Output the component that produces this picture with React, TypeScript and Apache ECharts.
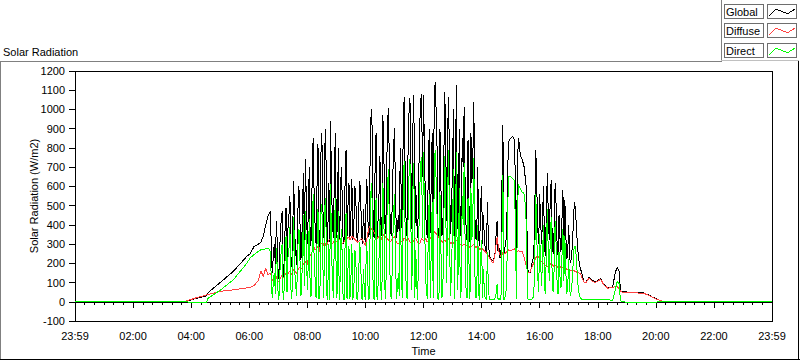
import React, { useEffect, useRef } from "react";
import * as echarts from "echarts";

// ---------- data ----------
const seriesNames = ["Global", "Diffuse", "Direct"];

// night / morning samples (explicit times)
const morningTimes = ["00:00", "03:43", "04:00", "04:12", "04:25", "04:31", "04:35", "05:00", "05:27", "05:55", "06:02", "06:10", "06:19", "06:24", "06:29", "06:34", "06:39"];
const morningGlobal = [0, 0, 10, 19, 26, 30, 48, 100, 158, 236, 250, 288, 300, 310, 340, 400, 450];
const morningDiffuse = [0, 0, 12, 22, 30, 35, 38, 54, 62, 72, 74, 85, 110, 160, 132, 175, 140];
const morningDirect = [0, 0, -2, -4, -5, -4, 18, 60, 114, 200, 229, 245, 262, 270, 272, 275, 280];

// daytime samples: logger every 2 minutes from 06:44 (one row = 40 minutes)
const dayStart = "06:44";
const dayStepMinutes = 2;
const dayGlobal = [
  470, 200, 150, 260, 300, 180, 420, 300, 120, 160, 350, 420, 470, 130, 200, 380, 490, 210, 380, 450,
  550, 240, 180, 400, 630, 350, 260, 190, 420, 600, 550, 220, 240, 480, 670, 300, 740, 520, 300, 460,
  700, 290, 320, 650, 850, 560, 400, 300, 600, 820, 280, 330, 760, 880, 500, 330, 800, 900, 350, 300,
  620, 310, 940, 600, 400, 330, 700, 880, 330, 380, 800, 320, 450, 700, 560, 300, 320, 620, 790, 340,
  500, 620, 330, 450, 640, 320, 380, 600, 560, 340, 310, 450, 630, 580, 340, 300, 480, 350, 300, 640,
  580, 340, 350, 820, 1000, 900, 400, 330, 700, 880, 330, 420, 550, 760, 380, 340, 970, 800, 420, 350,
  700, 950, 1010, 520, 360, 340, 600, 780, 905, 600, 330, 380, 450, 350, 800, 560, 340, 880, 1065, 700,
  420, 340, 760, 980, 1060, 700, 380, 900, 1075, 350, 600, 420, 330, 620, 900, 1040, 1080, 650, 1075, 800,
  500, 380, 330, 700, 900, 360, 620, 880, 350, 980, 1145, 1000, 800, 340, 370, 900, 600, 340, 380, 750,
  1090, 800, 420, 900, 1065, 600, 350, 500, 700, 1000, 330, 700, 1128, 380, 500, 900, 340, 360, 850, 700,
  1015, 600, 380, 320, 840, 500, 310, 880, 620, 760, 1040, 450, 330, 320, 700, 330, 290, 500, 600, 300,
  450, 300, 280, 250, 520, 330, 240, 230, 220, 215, 210, 230, 260, 350, 420, 260, 280, 230, 240, 600,
  920, 250, 280, 300, 380, 700, 830, 845, 850, 855, 860, 850, 840, 600, 270, 700, 850, 820, 760, 750,
  740, 720, 700, 650, 600, 350, 160, 150, 150, 170, 200, 220, 250, 500, 790, 600, 380, 300, 560, 420,
  300, 450, 600, 280, 240, 500, 670, 420, 320, 560, 635, 300, 250, 380, 620, 500, 300, 240, 450, 330,
  260, 420, 580, 300, 530, 350, 220, 260, 400, 230, 200, 250, 300, 450, 520, 480, 380, 300, 230, 200, 170, 160, 140, 120, 100,
];
const dayDiffuse = [
  150, 125, 110, 115, 120, 128, 130, 112, 105, 110, 120, 132, 140, 126, 130, 140, 150, 152, 145, 155,
  160, 150, 140, 155, 170, 165, 150, 148, 160, 170, 180, 175, 170, 185, 200, 205, 210, 200, 190, 230,
  260, 245, 240, 265, 280, 285, 270, 275, 290, 280, 260, 280, 300, 305, 290, 300, 310, 295, 290, 305,
  320, 325, 330, 315, 300, 310, 320, 315, 310, 320, 330, 325, 320, 310, 300, 305, 310, 320, 330, 335,
  330, 335, 320, 330, 340, 335, 330, 325, 320, 315, 310, 315, 320, 325, 330, 320, 310, 300, 290, 320,
  340, 370, 390, 395, 380, 375, 370, 360, 350, 340, 330, 335, 340, 330, 320, 335, 350, 345, 340, 335,
  330, 325, 320, 315, 310, 320, 330, 335, 340, 325, 310, 305, 300, 310, 320, 315, 310, 320, 330, 325,
  320, 325, 330, 320, 310, 305, 300, 310, 320, 325, 330, 320, 310, 305, 300, 315, 330, 325, 320, 325,
  330, 320, 310, 315, 320, 330, 340, 350, 360, 365, 360, 355, 350, 340, 330, 325, 320, 315, 310, 315,
  320, 315, 310, 320, 330, 315, 300, 305, 310, 305, 300, 310, 320, 315, 310, 305, 300, 295, 290, 295,
  300, 295, 290, 295, 300, 290, 280, 285, 290, 295, 300, 290, 280, 285, 290, 280, 270, 275, 280, 275,
  270, 265, 260, 255, 250, 240, 230, 222, 215, 205, 200, 225, 250, 300, 335, 300, 260, 245, 235, 245,
  255, 250, 250, 255, 260, 265, 270, 268, 265, 268, 270, 272, 275, 270, 260, 262, 265, 262, 260, 260,
  260, 245, 230, 210, 190, 170, 150, 150, 155, 168, 180, 192, 205, 218, 230, 235, 240, 230, 220, 215,
  210, 205, 200, 195, 190, 188, 185, 188, 190, 195, 200, 192, 185, 188, 190, 185, 180, 182, 185, 182,
  180, 178, 175, 175, 175, 172, 170, 168, 165, 162, 160, 162, 165, 162, 160, 158, 155, 152, 150, 148, 145, 135, 120, 110, 100,
];
const dayDirect = [
  260, 60, 20, 120, 150, 40, 280, 170, 10, 40, 200, 260, 300, 10, 60, 220, 340, 50, 230, 270,
  390, 70, 15, 220, 440, 160, 80, 30, 250, 380, 360, 30, 40, 260, 450, 80, 470, 280, 60, 200,
  430, 30, 30, 300, 560, 220, 120, 20, 300, 480, 15, 40, 460, 510, 200, 20, 490, 540, 40, 10,
  300, 10, 610, 280, 90, 20, 380, 540, 20, 50, 470, 10, 130, 380, 250, 10, 10, 300, 460, 15,
  170, 290, 15, 120, 300, 10, 50, 270, 240, 20, 10, 130, 310, 250, 20, 10, 170, 40, 10, 310,
  240, 10, 20, 430, 620, 520, 40, 10, 350, 540, 10, 80, 220, 430, 60, 10, 620, 460, 80, 15,
  370, 630, 690, 210, 30, 15, 270, 440, 560, 280, 15, 70, 150, 30, 480, 240, 20, 560, 730, 380,
  90, 15, 420, 650, 740, 400, 60, 580, 720, 20, 270, 90, 10, 300, 560, 720, 750, 330, 780, 480,
  160, 50, 15, 380, 560, 20, 270, 520, 20, 620, 790, 640, 450, 10, 30, 570, 270, 20, 60, 430,
  760, 480, 100, 580, 790, 280, 30, 190, 380, 690, 15, 380, 780, 60, 180, 590, 20, 60, 550, 400,
  720, 300, 50, 20, 540, 200, 15, 590, 320, 460, 750, 160, 20, 30, 400, 40, 10, 220, 320, 20,
  170, 30, 20, 10, 260, 80, 10, 10, 10, 10, 10, 10, 20, 40, 90, 10, 20, 10, 10, 330,
  660, 10, 20, 40, 110, 500, 650, 650, 650, 645, 640, 635, 630, 350, 15, 450, 610, 600, 590, 580,
  570, 570, 560, 510, 420, 150, 10, 10, 10, 10, 15, 20, 40, 260, 560, 350, 130, 50, 350, 200,
  80, 250, 400, 70, 40, 300, 480, 220, 110, 350, 440, 90, 50, 180, 420, 300, 100, 40, 260, 130,
  70, 230, 380, 110, 340, 160, 40, 80, 220, 60, 30, 80, 120, 260, 290, 290, 210, 130, 60, 40, 20, 15, 12, 10, 10,
];

// evening / night samples (explicit times)
const eveningTimes = ["17:35", "17:42", "17:48", "17:54", "18:00", "18:06", "18:12", "18:21", "18:31", "18:36", "18:40", "18:44", "18:47", "18:50", "19:05", "19:20", "19:35", "19:45", "19:55", "20:05", "20:15", "20:25", "24:00"];
const eveningGlobal = [100, 128, 112, 104, 110, 122, 92, 72, 78, 150, 178, 160, 60, 52, 50, 48, 46, 35, 22, 10, 3, 0, 0];
const eveningDiffuse = [98, 124, 108, 100, 106, 118, 90, 70, 75, 80, 78, 70, 55, 50, 48, 46, 44, 34, 21, 10, 3, 0, 0];
const eveningDirect = [10, 10, 10, 10, 12, 10, 10, 10, 8, 60, 105, 95, 5, 0, -3, -5, -4, -3, -2, -1, 0, 0, 0];

const xTickLabelEnds = "23:59";

// ---------- helpers ----------
const toMin = (s: string) => {
  const [h, m] = s.split(":").map(Number);
  return h * 60 + m;
};

function buildSeries(mT: string[], mV: number[], dV: number[], eT: string[], eV: number[]) {
  const out: [number, number][] = [];
  mT.forEach((t, i) => out.push([toMin(t), mV[i]]));
  const s0 = toMin(dayStart);
  dV.forEach((v, i) => out.push([s0 + i * dayStepMinutes, v]));
  eT.forEach((t, i) => out.push([toMin(t), eV[i]]));
  return out;
}

const fmtTime = (v: number) => {
  if (v <= 0 || v >= 1440) return xTickLabelEnds;
  const h = Math.floor(v / 60);
  const m = v % 60;
  return String(h).padStart(2, "0") + ":" + String(m).padStart(2, "0");
};

const FONT = "'Liberation Sans', Arial, sans-serif";
const colors = ["#000000", "#ff4040", "#00ff00"];

export default function App() {
  const ref = useRef<HTMLDivElement>(null);
  useEffect(() => {
    if (!ref.current) return;
    const chart = echarts.init(ref.current, null, { renderer: "svg" });
    const data = [
      buildSeries(morningTimes, morningGlobal, dayGlobal, eveningTimes, eveningGlobal),
      buildSeries(morningTimes, morningDiffuse, dayDiffuse, eveningTimes, eveningDiffuse),
      buildSeries(morningTimes, morningDirect, dayDirect, eveningTimes, eveningDirect),
    ];

    const legendGraphics: any[] = [];
    const rowTops = [4, 23, 43];
    seriesNames.forEach((name, i) => {
      const y = rowTops[i];
      legendGraphics.push({
        type: "rect",
        shape: { x: 724.5, y: y + 0.5, width: 39, height: 14 },
        style: { fill: "#fff", stroke: "#6e6e6e", lineWidth: 1 },
      });
      legendGraphics.push({
        type: "text",
        x: 726,
        y: y + 8,
        style: { text: name, fill: "#000", font: "11px " + FONT, verticalAlign: "middle", align: "left" },
      });
      legendGraphics.push({
        type: "rect",
        shape: { x: 767.5, y: y + 0.5, width: 29, height: 14 },
        style: { fill: "#fff", stroke: "#6e6e6e", lineWidth: 1 },
      });
      legendGraphics.push({
        type: "polyline",
        shape: { points: [[769, y + 12], [776, y + 5], [783, y + 8], [788, y + 9.5], [795, y + 5]] },
        style: { stroke: colors[i], lineWidth: 1, fill: null },
      });
    });

    chart.setOption({
      animation: false,
      backgroundColor: "#fff",
      grid: {
        left: 75,
        right: 28,
        top: 71,
        bottom: 40,
        show: true,
        borderColor: "#000",
        borderWidth: 1,
        backgroundColor: "#fff",
      },
      xAxis: {
        type: "value",
        min: 0,
        max: 1440,
        interval: 120,
        name: "Time",
        nameLocation: "middle",
        nameGap: 24,
        nameMoveOverlap: false,
        nameTextStyle: { color: "#000", fontSize: 11, fontFamily: FONT },
        axisLine: { show: true, lineStyle: { color: "#000", width: 1 } },
        axisTick: { show: true, length: 6, lineStyle: { color: "#000" } },
        minorTick: { show: true, splitNumber: 6, length: 3, lineStyle: { color: "#000" } },
        splitLine: { show: false },
        minorSplitLine: { show: false },
        axisLabel: { formatter: fmtTime, color: "#000", fontSize: 11, fontFamily: FONT, margin: 9 },
      },
      yAxis: {
        type: "value",
        min: -100,
        max: 1200,
        interval: 100,
        name: "Solar Radiation (W/m2)",
        nameLocation: "middle",
        nameGap: 36,
        nameRotate: 90,
        nameMoveOverlap: false,
        nameTextStyle: { color: "#000", fontSize: 11, fontFamily: FONT },
        axisLine: { show: true, lineStyle: { color: "#000", width: 1 } },
        axisTick: { show: true, length: 6, lineStyle: { color: "#000" } },
        splitLine: { show: false },
        axisLabel: { formatter: (v: number) => String(v), color: "#000", fontSize: 11, fontFamily: FONT, margin: 10 },
      },
      series: seriesNames.map((n, i) => ({
        name: n,
        type: "line",
        data: data[i],
        showSymbol: false,
        symbol: "none",
        lineStyle: { color: colors[i], width: 1 },
        itemStyle: { color: colors[i] },
        z: 2 + i,
      })),
      graphic: [
        // outer frame
        { type: "line", shape: { x1: 0, y1: 61.5, x2: 722, y2: 61.5 }, style: { stroke: "#808080", lineWidth: 1 } },
        { type: "line", shape: { x1: 0.5, y1: 61, x2: 0.5, y2: 360 }, style: { stroke: "#808080", lineWidth: 1 } },
        { type: "line", shape: { x1: 0, y1: 359.5, x2: 800, y2: 359.5 }, style: { stroke: "#000", lineWidth: 1 } },
        { type: "line", shape: { x1: 798.5, y1: 61, x2: 798.5, y2: 360 }, style: { stroke: "#000", lineWidth: 1 } },
        // legend panel edges
        { type: "line", shape: { x1: 721.5, y1: 0, x2: 721.5, y2: 61 }, style: { stroke: "#808080", lineWidth: 1 } },
        { type: "line", shape: { x1: 721, y1: 60.5, x2: 799, y2: 60.5 }, style: { stroke: "#c0c0c0", lineWidth: 1 } },
        // title
        {
          type: "text",
          x: 3,
          y: 52,
          style: { text: "Solar Radiation", fill: "#000", font: "11px " + FONT, verticalAlign: "middle", align: "left" },
        },
        ...legendGraphics,
      ],
    });
    return () => chart.dispose();
  }, []);
  return (
    <>
      <style>{".solar-chart svg path { shape-rendering: crispEdges; }"}</style>
      <div className="solar-chart" ref={ref} style={{ position: "absolute", left: 0, top: 0, width: 800, height: 361 }} />
    </>
  );
}
